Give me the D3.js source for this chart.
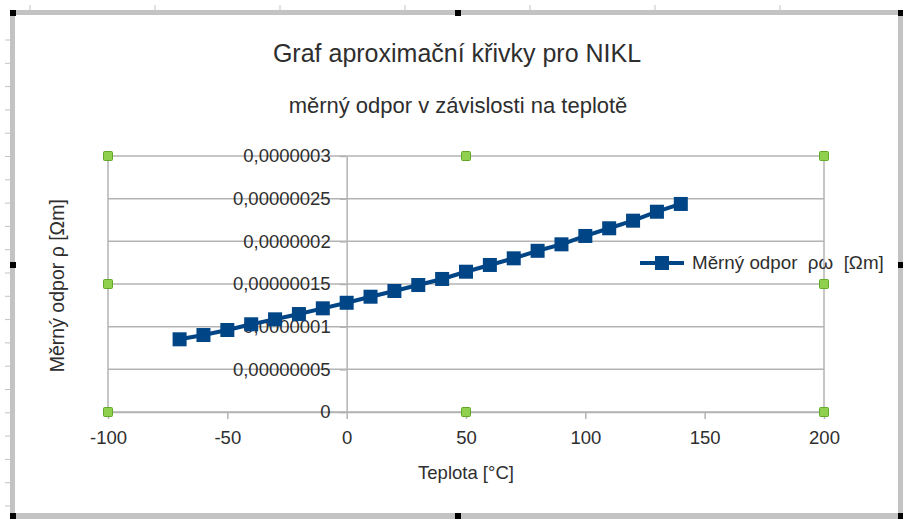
<!DOCTYPE html>
<html>
<head>
<meta charset="utf-8">
<script src="https://cdn.jsdelivr.net/npm/d3@7/dist/d3.min.js"></script>
<style>
  body { margin: 0; background: #fff; }
  svg { display: block; font-family: "Liberation Sans", Arial, sans-serif; }
</style>
</head>
<body>
<svg id="chart" width="903" height="519"></svg>
<script>
// data
const teploty = [-70, -60, -50, -40, -30, -20, -10, 0, 10, 20, 30, 40, 50, 60, 70, 80, 90, 100, 110, 120, 130, 140]
const odpor = [0.852e-7, 0.902e-7, 0.961e-7, 1.028e-7, 1.086e-7, 1.148e-7, 1.215e-7, 1.280e-7,
    1.351e-7, 1.418e-7, 1.488e-7, 1.559e-7, 1.644e-7, 1.723e-7, 1.801e-7, 1.889e-7,
    1.965e-7, 2.063e-7, 2.153e-7, 2.242e-7, 2.347e-7, 2.438e-7]
const xTicks = [-100, -50, 0, 50, 100, 150, 200]
const xTickLabels = ['-100', '-50', '0', '50', '100', '150', '200']
const yTicks = [0, 0.5e-7, 1e-7, 1.5e-7, 2e-7, 2.5e-7, 3e-7]
const yTickLabels = ['0', '0,00000005', '0,0000001', '0,00000015', '0,0000002', '0,00000025', '0,0000003']

const title = 'Graf aproximační křivky pro NIKL'
const subtitle = 'měrný odpor v závislosti na teplotě'
const xTitle = 'Teplota [°C]'
const yTitle = 'Měrný odpor ρ [Ωm]'
const legendText = 'Měrný odpor  ρω  [Ωm]'

const svg = d3.select('#chart')
const textColor = '#2e2e2e'
const gridColor = '#b3b3b3'
const blue = '#004586'

const x = d3.scaleLinear().domain([-100, 200]).range([108, 824])
const y = d3.scaleLinear().domain([0, 3e-7]).range([412, 156])

// editor frame (gray border, rulers, black handles)
const frame = svg.append('g')
frame.append('rect').attr('x', 10).attr('y', 10).attr('width', 893).attr('height', 5).attr('fill', '#c3c3c3')
frame.append('rect').attr('x', 10).attr('y', 10).attr('width', 5).attr('height', 509).attr('fill', '#c3c3c3')
frame.append('rect').attr('x', 10).attr('y', 513).attr('width', 893).attr('height', 6).attr('fill', '#c3c3c3')
frame.append('rect').attr('x', 898).attr('y', 10).attr('width', 5).attr('height', 509).attr('fill', '#c3c3c3')
frame.selectAll('.rl').data(d3.range(40, 512, 23.3))
    .enter().append('line')
    .attr('x1', 5).attr('x2', 10)
    .attr('y1', d => d).attr('y2', d => d)
    .attr('stroke', '#c3c3c3').attr('stroke-width', 1)
frame.selectAll('.rt').data(d3.range(30, 900, 125))
    .enter().append('line')
    .attr('y1', 5).attr('y2', 10)
    .attr('x1', d => d).attr('x2', d => d)
    .attr('stroke', '#c3c3c3').attr('stroke-width', 1)
const handles = [[10, 10], [455, 10], [898, 10], [10, 262], [898, 262], [10, 513], [455, 513], [898, 513]]
frame.selectAll('.hd').data(handles)
    .enter().append('rect')
    .attr('x', d => d[0]).attr('y', d => d[1])
    .attr('width', 6).attr('height', 6)
    .attr('fill', '#000')

// titles
svg.append('text').attr('x', 457).attr('y', 62).attr('text-anchor', 'middle')
    .attr('font-size', 25).attr('fill', textColor).text(title)
svg.append('text').attr('x', 458).attr('y', 113).attr('text-anchor', 'middle')
    .attr('font-size', 22).attr('fill', textColor).text(subtitle)

// grid
svg.selectAll('.grid').data(yTicks)
    .enter().append('line')
    .attr('x1', x(-100)).attr('x2', x(200))
    .attr('y1', d => y(d)).attr('y2', d => y(d))
    .attr('stroke', gridColor).attr('stroke-width', 1.5)
svg.selectAll('.wall').data([-100, 200])
    .enter().append('line')
    .attr('x1', d => x(d)).attr('x2', d => x(d))
    .attr('y1', y(0)).attr('y2', y(3e-7))
    .attr('stroke', gridColor).attr('stroke-width', 1.5)

// x axis
const xAxis = svg.append('g')
    .attr('transform', `translate(0,${y(0)})`)
    .call(d3.axisBottom(x).tickValues(xTicks).tickFormat((d, i) => xTickLabels[i])
        .tickSize(7).tickPadding(12).tickSizeOuter(0))
xAxis.select('.domain').attr('stroke', gridColor).attr('stroke-width', 1.5)
xAxis.selectAll('.tick line').attr('stroke', gridColor).attr('stroke-width', 1.5)
xAxis.selectAll('.tick text').attr('font-size', 18.5).attr('fill', textColor)
    .attr('font-family', '"Liberation Sans", Arial, sans-serif')

// y axis, crossing at x = 0
const yAxis = svg.append('g')
    .attr('transform', `translate(${x(0)},0)`)
    .call(d3.axisLeft(y).tickValues(yTicks).tickFormat((d, i) => yTickLabels[i])
        .tickSize(7).tickPadding(9).tickSizeOuter(0))
yAxis.select('.domain').attr('stroke', gridColor).attr('stroke-width', 1.5)
yAxis.selectAll('.tick line').attr('stroke', gridColor).attr('stroke-width', 1.5)
yAxis.selectAll('.tick text').attr('font-size', 18.5).attr('fill', textColor)
    .attr('font-family', '"Liberation Sans", Arial, sans-serif')

// axis titles
svg.append('text').attr('x', x(50)).attr('y', 479).attr('text-anchor', 'middle')
    .attr('font-size', 18.5).attr('fill', textColor).text(xTitle)
svg.append('text').attr('transform', `translate(64,${y(1.48e-7)}) rotate(-90)`)
    .attr('text-anchor', 'middle')
    .attr('font-size', 19.5).attr('fill', textColor).text(yTitle)

// series
const pts = teploty.map((t, i) => [t, odpor[i]])
const line = d3.line().x(d => x(d[0])).y(d => y(d[1]))
svg.append('path').datum(pts)
    .attr('fill', 'none').attr('stroke', blue)
    .attr('stroke-width', 4).attr('stroke-linejoin', 'round')
    .attr('d', line)
svg.selectAll('.mk').data(pts)
    .enter().append('rect')
    .attr('x', d => x(d[0]) - 7).attr('y', d => y(d[1]) - 7)
    .attr('width', 14).attr('height', 14)
    .attr('fill', blue)

// legend
const lg = svg.append('g')
lg.append('line').attr('x1', 640).attr('x2', 684).attr('y1', 263).attr('y2', 263)
    .attr('stroke', blue).attr('stroke-width', 4)
lg.append('rect').attr('x', 655).attr('y', 256).attr('width', 14).attr('height', 14).attr('fill', blue)
lg.append('text').attr('x', 692).attr('y', 269).attr('font-size', 18.8)
    .attr('fill', textColor).attr('xml:space', 'preserve').style('white-space', 'pre').text(legendText)

// selection handles of the plot area
const corners = [[-100, 3e-7], [50, 3e-7], [200, 3e-7], [-100, 1.5e-7], [200, 1.5e-7], [-100, 0], [50, 0], [200, 0]]
svg.selectAll('.sel').data(corners)
    .enter().append('rect')
    .attr('x', d => x(d[0]) - 4.5).attr('y', d => y(d[1]) - 4.5)
    .attr('width', 9).attr('height', 9).attr('rx', 1)
    .attr('fill', '#8fd14f').attr('stroke', '#62a82a').attr('stroke-width', 1)
</script>
</body>
</html>
